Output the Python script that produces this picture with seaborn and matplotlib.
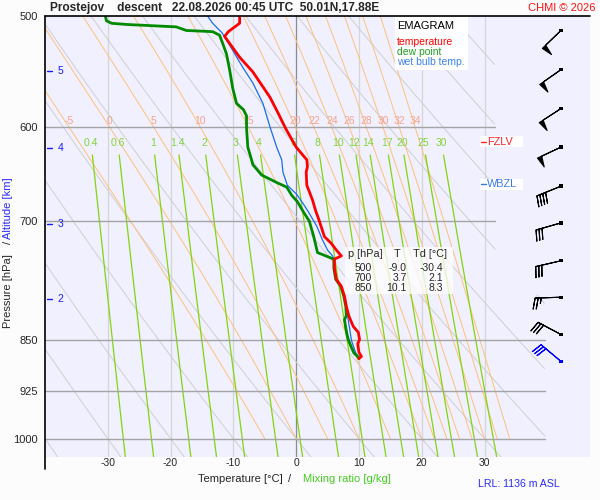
import numpy as np
import pandas as pd
import matplotlib
matplotlib.use("Agg")
import matplotlib.pyplot as plt
from matplotlib.patches import Rectangle
from matplotlib.lines import Line2D
import seaborn as sns

# sounding: pressure [hPa] and temperature [deg C]
t_pres = [500, 506, 513, 517, 535, 548, 571, 586, 601, 620, 633, 640, 646, 660,
          676, 688, 700, 718, 726, 734, 741, 745, 756, 770, 779, 792, 805, 818,
          832, 840, 850, 856, 868, 874, 877]
t_vals = [-9.0, -9.0, -10.8, -11.4, -9.0, -6.9, -4.2, -2.9, -1.7, 0.0, 1.7, 1.8,
          1.6, 1.7, 2.6, 3.1, 3.7, 4.5, 5.6, 6.4, 7.2, 6.1, 6.1, 6.4, 7.2, 7.7,
          8.0, 8.4, 9.1, 9.9, 10.1, 9.8, 10.0, 10.4, 10.0]

td_pres = [500, 504, 506, 507, 509, 512, 513, 516, 523, 532, 546, 563, 577, 583,
           589, 601, 620, 633, 638, 649, 657, 662, 671, 678, 690, 700, 718, 737,
           741, 745, 756, 770, 779, 792, 805, 817, 823, 834, 843, 850, 859, 869,
           874, 877]
td_vals = [-30.4, -30.2, -29.4, -27.0, -19.1, -17.5, -13.3, -12.2, -11.7, -11.1,
           -10.6, -10.1, -9.5, -8.4, -7.9, -7.9, -7.7, -7.1, -6.9, -5.5, -3.1,
           -1.5, -0.7, 0.2, 1.2, 2.1, 2.8, 3.4, 4.7, 6.0, 6.0, 6.3, 7.1, 7.6, 7.9,
           8.0, 7.7, 7.9, 8.1, 8.3, 8.7, 9.2, 9.8, 10.0]

tw_pres = [500, 506, 514, 529, 544, 558, 577, 593, 601, 620, 633, 646, 660, 670,
           680, 690, 706, 722, 734, 741, 745, 756, 770, 779, 792, 805, 818, 834,
           851, 859, 869, 874, 877]
tw_vals = [-14.1, -13.3, -11.8, -10.1, -8.5, -6.9, -5.3, -4.5, -4.1, -3.1, -2.3,
           -2.1, -1.4, 0.1, 1.1, 2.0, 3.3, 4.2, 5.0, 5.8, 6.0, 6.0, 6.3, 7.1, 7.6,
           7.9, 8.2, 8.5, 8.8, 9.1, 9.5, 9.9, 10.0]

table_p = ["500", "700", "850"]
table_t = ["-9.0", "3.7", "10.1"]
table_td = ["-30.4", "2.1", "8.3"]

# winds every 500 m (lowest one at LRL)
wind_p = [512, 546, 582, 620, 661, 702, 747, 793, 843, 881]
wind_dir = [226, 235, 237, 245, 248, 254, 257, 268, 298, 310]
wind_kt = [50, 50, 50, 50, 40, 30, 30, 25, 30, 30]

alt_km = [5, 4, 3, 2]
alt_p = [547, 621, 703, 795]

p_ticks = [500, 600, 700, 850, 925, 1000]
t_ticks = [-30, -20, -10, 0, 10, 20, 30]

theta_dry = list(range(-40, 110, 10))
theta_w = [-5, 0, 5, 10, 15, 20, 22, 24, 26, 28, 30, 32, 34]
mix_ratio = [0.4, 0.6, 1, 1.4, 2, 3, 4, 6, 8, 10, 12, 14, 17, 20, 25, 30]

W, H = 600, 500
P_BOT = 1030.6


def fx(x):
    return x / W


def fy(y):
    return 1 - y / H


def sat_vp(tc):
    return 6.112 * np.exp(17.67 * tc / (tc + 243.5))


def dew_from_e(e):
    a = np.log(e / 6.112)
    return 243.5 * a / (17.67 - a)


def moist_lapse(tk, p):
    e = sat_vp(tk - 273.15)
    rs = 0.622 * e / (p - e)
    num = 287.04 * tk + 2.501e6 * rs
    den = 1005.7 + 2.501e6 ** 2 * rs * 0.622 / (287.04 * tk ** 2)
    return num / den / p


def moist_adiabat(tw, levels):
    tk = tw + 273.15
    out = [tk]
    for p0, p1 in zip(levels[:-1], levels[1:]):
        dp = p1 - p0
        k1 = moist_lapse(tk, p0)
        k2 = moist_lapse(tk + k1 * dp, p1)
        tk = tk + 0.5 * (k1 + k2) * dp
        out.append(tk)
    return np.array(out) - 273.15


sns.set_theme(style="white")
plt.rcParams['font.family'] = ['Liberation Sans', 'DejaVu Sans']
plt.rcParams['axes.unicode_minus'] = False

fig = plt.figure(figsize=(6, 5), dpi=100, facecolor="#fcfcfc")
ax = fig.add_axes([fx(45), fy(457), (590 - 45) / W, (457 - 16) / H])
ax.set_facecolor("#f0f0ff")
ax.set_yscale("log")
ax.set_xlim(-40, 46.8)
ax.set_ylim(P_BOT, 500)
for s in ax.spines.values():
    s.set_visible(False)

# isotherms
for t in t_ticks:
    ax.plot([t, t], [500, P_BOT], color="#8c8c8c" if t == 0 else "#d6d6d6",
            lw=0.9, zorder=1)

# isobars
for p in p_ticks[1:]:
    right = 31.7 if p < 800 else 39.6
    ax.plot([-40, right], [p, p], color="#a4a4a4", lw=1.0, zorder=2)

# dry adiabats
p_dry = np.linspace(500, P_BOT, 500)
lim = np.where(p_dry < 790, 31.7, 39.6)
for th in theta_dry:
    t = (th + 273.15) * (p_dry / 1000) ** 0.2857 - 273.15
    t = np.where(t <= lim, t, np.nan)
    ax.plot(t, p_dry, color="#cfcfcf", lw=0.7, zorder=1)

# saturated adiabats
p_moist = np.linspace(1000, 500, 501)
for tw in theta_w:
    t = moist_adiabat(tw, p_moist)
    ax.plot(t, p_moist, color="#ffc17a", lw=0.7, zorder=1)
    t600 = np.interp(600, p_moist[::-1], t[::-1])
    if t600 > -39:
        ax.text(t600, 594, f"{tw}", color="#f4a48c", fontsize=7.5,
                ha="center", va="center", zorder=3)

# mixing ratio lines
p_mix = np.linspace(628, P_BOT, 200)
for w in mix_ratio:
    t = dew_from_e(w * p_mix / (622 + w))
    ax.plot(t, p_mix, color="#84d40c", lw=0.9, zorder=1)
    tl = dew_from_e(w * 616 / (622 + w))
    ax.text(tl, 616, f"{w:g}", color="#84d43c", fontsize=7.5,
            ha="center", va="center", zorder=3)

# profiles
df_tw = pd.DataFrame({"p": tw_pres, "T": tw_vals})
df_td = pd.DataFrame({"p": td_pres, "T": td_vals})
df_t = pd.DataFrame({"p": t_pres, "T": t_vals})
sns.lineplot(data=df_tw, x="T", y="p", sort=False, estimator=None,
             color="#1a6cf0", lw=0.9, ax=ax, zorder=5)
sns.lineplot(data=df_td, x="T", y="p", sort=False, estimator=None,
             color="#008a00", lw=2.0, ax=ax, zorder=6)
sns.lineplot(data=df_t, x="T", y="p", sort=False, estimator=None,
             color="#ff0000", lw=2.0, ax=ax, zorder=7)

# wind barbs
d = np.radians(wind_dir)
spd = np.array(wind_kt, dtype=float)
u = -spd * np.sin(d)
v = -spd * np.cos(d)
bcol = ["black"] * (len(wind_p) - 1) + ["#0000ff"]
xb = [42.17] * len(wind_p)
ax.barbs(xb, wind_p, u, v, length=6.1, linewidth=0.8, flip_barb=True,
         sizes=dict(spacing=0.12, height=0.42, width=0.18),
         barbcolor=bcol, flagcolor=bcol, zorder=8)
ax.scatter(xb, wind_p, marker="s", s=6, c=bcol, zorder=9, linewidths=0)

ax.set_xlabel("")
ax.set_ylabel("")
ax.set_xticks(t_ticks)
ax.set_xticklabels([str(t) for t in t_ticks], fontsize=7.5)
ax.set_yticks(p_ticks)
ax.set_yticklabels([str(p) for p in p_ticks], fontsize=8)
ax.yaxis.set_minor_locator(matplotlib.ticker.NullLocator())
ax.tick_params(axis="x", length=0, pad=1)
ax.tick_params(axis="y", length=0, pad=5)

# frame lines
fig.add_artist(Line2D([fx(45), fx(590)], [fy(16), fy(16)], color="black", lw=1.2))
fig.add_artist(Line2D([fx(45), fx(45)], [fy(16), fy(469)], color="black", lw=1.2))

# altitude ticks
for km, p in zip(alt_km, alt_p):
    ax.plot([-39.7, -38.9], [p, p], color="#1a1aff", lw=1.0, zorder=4)
    ax.text(-38.0, p, str(km), color="#1a1aff", fontsize=7.5, ha="left",
            va="center", zorder=4)

# legend box
fig.add_artist(Rectangle((fx(395), fy(70)), 73 / W, 53 / H, facecolor="white",
                         edgecolor="none", zorder=10))
fig.text(fx(397), fy(26), "EMAGRAM", fontsize=8, color="black", va="center", zorder=11)
fig.text(fx(397), fy(42), "temperature", fontsize=7.5, color="#ff0000", va="center", zorder=11)
fig.text(fx(397), fy(52), "dew point", fontsize=7.5, color="#20a020", va="center", zorder=11)
fig.text(fx(397), fy(62), "wet bulb temp.", fontsize=7.5, color="#3a80f0", va="center", zorder=11)

# level table
fig.add_artist(Rectangle((fx(345), fy(294)), 108 / W, 47 / H, facecolor="white",
                         alpha=0.75, edgecolor="none", zorder=10))
fig.text(fx(348), fy(254), "p [hPa]", fontsize=7.8, va="center", zorder=11)
fig.text(fx(397), fy(254), "T", fontsize=7.8, va="center", ha="center", zorder=11)
fig.text(fx(413), fy(254), "Td [°C]", fontsize=7.8, va="center", zorder=11)
for i, (pp, tt, dd) in enumerate(zip(table_p, table_t, table_td)):
    yy = 268 + 10 * i
    fig.text(fx(372), fy(yy), pp, fontsize=7.5, va="center", ha="right", zorder=11)
    fig.text(fx(407), fy(yy), tt, fontsize=7.5, va="center", ha="right", zorder=11)
    fig.text(fx(443), fy(yy), dd, fontsize=7.5, va="center", ha="right", zorder=11)

# freezing / wet bulb zero levels
for yy, lab, col in [(142, "FZLV", "#ff2020"), (184, "WBZL", "#3a7ae8")]:
    fig.add_artist(Rectangle((fx(480), fy(yy + 5.5)), 43 / W, 11 / H,
                             facecolor="white", edgecolor="none", zorder=10))
    fig.add_artist(Line2D([fx(481), fx(486)], [fy(yy), fy(yy)], color=col,
                          lw=1.0, zorder=11))
    fig.text(fx(487), fy(yy), lab, fontsize=7.8, color=col, va="center", zorder=11)

# titles and axis labels
fig.text(fx(50), fy(8), "Prostejov    descent   22.08.2026 00:45 UTC  50.01N,17.88E",
         fontsize=8.6, fontweight="bold", va="center")
fig.text(fx(595), fy(8), "CHMI © 2026", fontsize=8, color="#ff1010", va="center", ha="right")
fig.text(fx(198), fy(479), "Temperature [°C]", fontsize=8, va="center")
fig.text(fx(288), fy(479), "/", fontsize=8, va="center")
fig.text(fx(303), fy(479), "Mixing ratio [g/kg]", fontsize=8, va="center", color="#44cc22")
fig.text(fx(519), fy(484), "LRL: 1136 m ASL", fontsize=7.6, va="center", ha="center", color="#2a2aff")
fig.text(fx(8), fy(291), "Pressure [hPa]", fontsize=8, rotation=90, va="center", ha="center")
fig.text(fx(8), fy(242), "/", fontsize=8, rotation=90, va="center", ha="center")
fig.text(fx(8), fy(208), "Altitude [km]", fontsize=8, rotation=90, va="center", ha="center",
         color="#2a2aff")

fig.savefig("out.png", dpi=100, facecolor=fig.get_facecolor())
